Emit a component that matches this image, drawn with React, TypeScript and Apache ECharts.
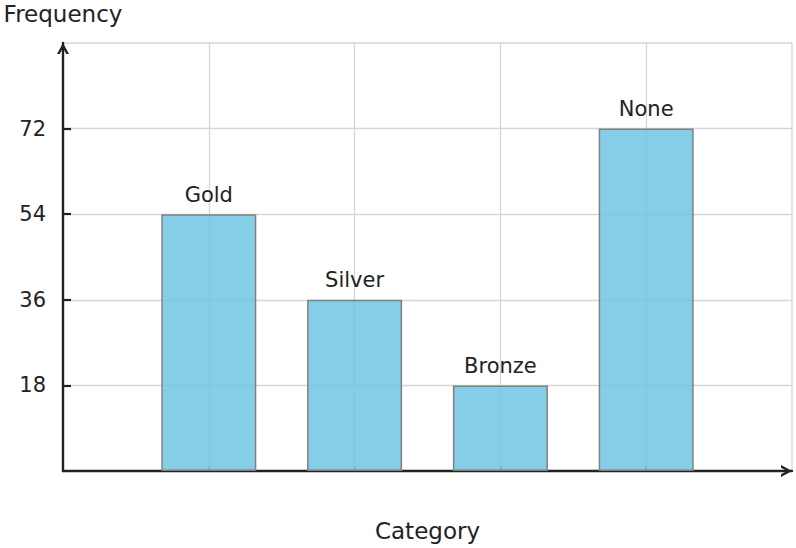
import React, { useEffect, useRef } from "react";
import * as echarts from "echarts";

const categories = ["Gold", "Silver", "Bronze", "None"];
const positions = [1, 2, 3, 4];
const frequencies = [54, 36, 18, 72];
const yTicks = [18, 36, 54, 72];

const FONT = "DejaVu Sans";
const INK = "#222222";
const GRID = "#d6d6d6";
const CHEVRON = "path://M0,11 L6,0 L12,11 L9.3,11 L6,5 L2.7,11 Z";

export default function App() {
  const ref = useRef<HTMLDivElement>(null);

  useEffect(() => {
    document.body.style.margin = "0";
    if (!ref.current) return;
    const chart = echarts.init(ref.current, undefined, { renderer: "svg" });
    const axisLine = {
      show: true,
      symbol: ["none", CHEVRON],
      symbolSize: [12, 11],
      symbolOffset: [0, -5.5],
      lineStyle: { color: INK, width: 2.4 },
    };
    chart.setOption({
      animation: false,
      backgroundColor: "#ffffff",
      textStyle: { fontFamily: FONT },
      grid: {
        left: 63,
        right: 4,
        top: 43,
        bottom: 77,
        containLabel: false,
        show: true,
        borderColor: GRID,
        borderWidth: 1.3,
      },
      xAxis: {
        type: "value",
        min: 0,
        max: 5,
        interval: 1,
        name: "Category",
        nameLocation: "middle",
        nameGap: 48,
        nameTextStyle: { fontSize: 23, color: INK, fontFamily: FONT },
        axisLine,
        axisTick: {
          show: true,
          inside: true,
          length: 5,
          customValues: positions,
          lineStyle: { color: "#555555", width: 1.5 },
        },
        axisLabel: { show: false },
        splitLine: { show: true, lineStyle: { color: GRID, width: 1.3 } },
      },
      yAxis: {
        type: "value",
        min: 0,
        max: 90,
        interval: 18,
        name: "Frequency",
        nameLocation: "end",
        nameGap: 18,
        nameTextStyle: { fontSize: 23, color: INK, fontFamily: FONT },
        axisLine,
        axisTick: {
          show: true,
          inside: true,
          length: 8,
          customValues: yTicks,
          lineStyle: { color: INK, width: 2.2 },
        },
        axisLabel: {
          show: true,
          customValues: yTicks,
          margin: 17,
          fontSize: 21,
          color: INK,
          fontFamily: FONT,
        },
        splitLine: { show: true, lineStyle: { color: GRID, width: 1.3 } },
      },
      series: [
        {
          type: "bar",
          barWidth: 95,
          data: positions.map((p, i) => ({ value: [p, frequencies[i]], name: categories[i] })),
          itemStyle: {
            color: "rgba(110,197,228,0.85)",
            borderColor: "#808080",
            borderWidth: 1.5,
          },
          label: {
            show: true,
            position: "top",
            distance: 9,
            formatter: "{b}",
            fontSize: 21,
            color: INK,
            fontFamily: FONT,
          },
        },
      ],
    });
    return () => chart.dispose();
  }, []);

  return <div ref={ref} style={{ width: 796, height: 548 }} />;
}
